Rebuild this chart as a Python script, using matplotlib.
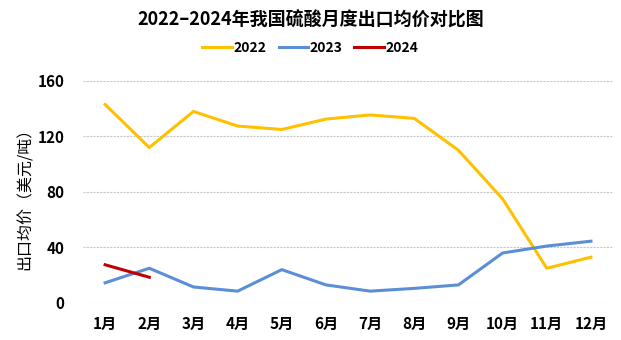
import matplotlib
matplotlib.use("Agg")
import matplotlib.pyplot as plt

plt.rcParams['font.family'] = ['Noto Sans CJK SC', 'DejaVu Sans']

months = ['1月', '2月', '3月', '4月', '5月', '6月', '7月', '8月', '9月', '10月', '11月', '12月']
price_2022 = [143, 112, 138, 127.5, 125, 132.5, 135.5, 133, 110, 75, 25, 33]
price_2023 = [14.5, 25, 11.5, 8.5, 24, 13, 8.5, 10.5, 13, 36, 41, 44.5]
price_2024 = [27.5, 18.5]
y_ticks = [0, 40, 80, 120, 160]

fig = plt.figure(figsize=(6.21, 3.40), dpi=100)
ax = fig.add_axes([0.1337, 0.109, 0.8535, 0.653])

x = list(range(len(months)))
ax.plot(x, price_2022, color='#FFC000', lw=2.2, label='2022')
ax.plot(x, price_2023, color='#5B8FD5', lw=2.2, label='2023')
ax.plot(x[:len(price_2024)], price_2024, color='#C00000', lw=2.2, label='2024')

ax.set_xlim(-0.5, len(months) - 0.5)
ax.set_ylim(0, 160)
ax.set_yticks(y_ticks)
ax.set_xticks(x)
ax.set_xticklabels(months)
ax.tick_params(length=0, labelsize=11, pad=9)
ax.tick_params(axis='y', pad=13.5)
for lbl in ax.get_xticklabels() + ax.get_yticklabels():
    lbl.set_fontweight('bold')
ax.grid(axis='y', color='#C8C8C8', lw=0.8, ls=(0, (2, 1)))
ax.set_axisbelow(True)
for s in ax.spines.values():
    s.set_visible(False)

# y轴标题放在左边
fig.text(25 / 621, 1 - 195 / 340, '出口均价（美元/吨）', fontsize=11.5, rotation=90,
         ha='center', va='center')

fig.text(0.5, 1 - 20 / 340, '2022–2024年我国硫酸月度出口均价对比图', fontsize=13,
         fontweight='bold', ha='center', va='center')
fig.legend(loc='center', bbox_to_anchor=(0.5, 1 - 48 / 340), ncol=3, frameon=False,
           prop={'weight': 'bold', 'size': 10}, handlelength=2.1, columnspacing=0.85,
           handletextpad=0.15)

fig.savefig('out.png', dpi=100)
